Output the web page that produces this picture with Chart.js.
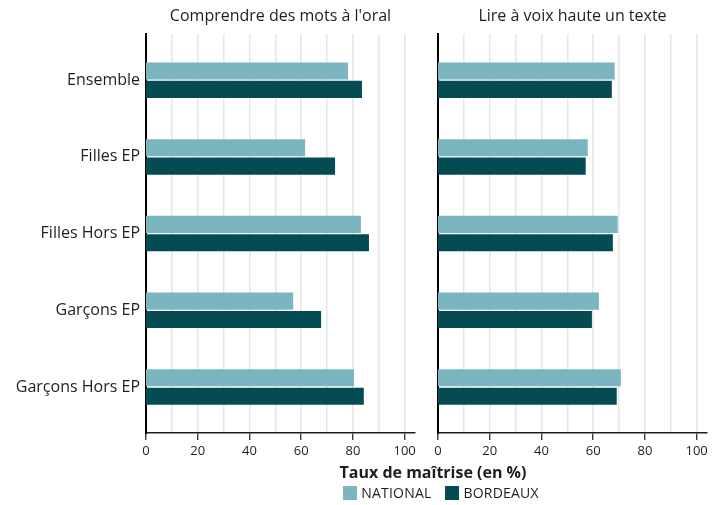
<!DOCTYPE html>
<html>
<head>
<meta charset="utf-8">
<script src="https://cdn.jsdelivr.net/npm/chart.js@4"></script>
<style>
  body { margin: 0; background: #fff; font-family: "Open Sans", sans-serif; color: #1e1e1e; }
  #wrap { position: relative; width: 724px; height: 505px; }
  #c1 { position: absolute; left: 0; top: 0; }
  #c2 { position: absolute; left: 424px; top: 0; }
  #xtitle { position: absolute; left: 0; width: 866px; top: 461px; text-align: center; font-weight: bold; font-size: 16px; }
  #legend { position: absolute; left: 0; width: 882px; top: 483px; text-align: center; font-size: 14px; letter-spacing: 0.2px; }
  #legend span.sw { display: inline-block; width: 14px; height: 14px; vertical-align: -2px; margin-right: 4px; }
  #legend span.it { margin: 0 7px; }
</style>
</head>
<body>
<div id="wrap">
  <canvas id="c1" width="424" height="470"></canvas>
  <canvas id="c2" width="300" height="470"></canvas>
  <div id="xtitle">Taux de maîtrise (en %)</div>
  <div id="legend"></div>
</div>
<script>
// données
const categories = ['Ensemble', 'Filles EP', 'Filles Hors EP', 'Garçons EP', 'Garçons Hors EP'];
const panelTitles = ["Comprendre des mots à l'oral", 'Lire à voix haute un texte'];
const seriesNames = ['NATIONAL', 'BORDEAUX'];
const colors = ['#7ab5c0', '#044b53'];

const oralNational = [78.1, 61.5, 83.1, 56.9, 80.4];
const oralBordeaux = [83.5, 73.1, 86.2, 67.7, 84.2];
const lireNational = [68.3, 57.9, 69.5, 62.2, 70.7];
const lireBordeaux = [67.2, 57.1, 67.6, 59.5, 69.1];

const xTicks = [10, 20, 30, 40, 50, 60, 70, 80, 90, 100];

const toPoints = arr => arr.map((v, i) => ({ x: v, y: i }));

function makeChart(id, title, national, bordeaux, showLabels, yWidth, padRight) {
  return new Chart(document.getElementById(id), {
    type: 'bar',
    data: {
      datasets: [
        { label: seriesNames[0], data: toPoints(national), backgroundColor: colors[0] },
        { label: seriesNames[1], data: toPoints(bordeaux), backgroundColor: colors[1] }
      ]
    },
    options: {
      indexAxis: 'y',
      responsive: false,
      animation: false,
      categoryPercentage: 0.48,
      barPercentage: 0.93,
      layout: { padding: { top: 0, right: padRight, left: 0, bottom: 0 } },
      plugins: {
        legend: { display: false },
        tooltip: { enabled: false }
      },
      scales: {
        // axe du haut sans graduation : sert seulement à centrer le titre du panneau sur la zone du graphique
        xt: {
          axis: 'x', position: 'top', type: 'linear', min: 0, max: 104,
          grid: { display: false, drawTicks: false },
          border: { display: false },
          ticks: { display: false },
          title: {
            display: true, text: title, color: '#1e1e1e',
            font: { family: 'Open Sans', size: 16 },
            padding: { top: 7, bottom: 8 }
          }
        },
        x: {
          type: 'linear', position: 'bottom', min: 0, max: 104,
          afterBuildTicks: s => { s.ticks = [0].concat(xTicks).map(v => ({ value: v })); },
          afterFit: s => { s.height = 37; },
          grid: {
            color: c => c.tick && c.tick.value > 0 ? '#e6e6e6' : 'rgba(0,0,0,0)',
            lineWidth: 1.5,
            tickLength: 7,
            tickColor: c => c.tick && c.tick.value % 20 === 0 ? '#1e1e1e' : 'rgba(0,0,0,0)',
            tickWidth: 1.2
          },
          border: { color: '#1e1e1e', width: 1.5 },
          ticks: {
            padding: 3, color: '#1e1e1e', maxRotation: 0, autoSkip: false,
            font: { family: 'Open Sans', size: 13 },
            callback: v => v % 20 === 0 ? v : ''
          }
        },
        y: {
          type: 'linear', min: -0.6, max: 4.6, reverse: true, offset: false,
          afterBuildTicks: s => { s.ticks = categories.map((c, i) => ({ value: i })); },
          afterFit: s => { s.width = yWidth; },
          grid: { display: false, drawTicks: false },
          border: { color: '#000', width: 2 },
          ticks: {
            display: showLabels, padding: 6, color: '#1e1e1e', autoSkip: false,
            font: { family: 'Open Sans', size: 16 },
            callback: v => categories[v]
          }
        }
      }
    }
  });
}

makeChart('c1', panelTitles[0], oralNational, oralBordeaux, true, 146, 9);
makeChart('c2', panelTitles[1], lireNational, lireBordeaux, false, 14, 17);

// légende
document.getElementById('legend').innerHTML = seriesNames.map((n, i) =>
  '<span class="it"><span class="sw" style="background:' + colors[i] + '"></span>' + n + '</span>'
).join('');
</script>
</body>
</html>
